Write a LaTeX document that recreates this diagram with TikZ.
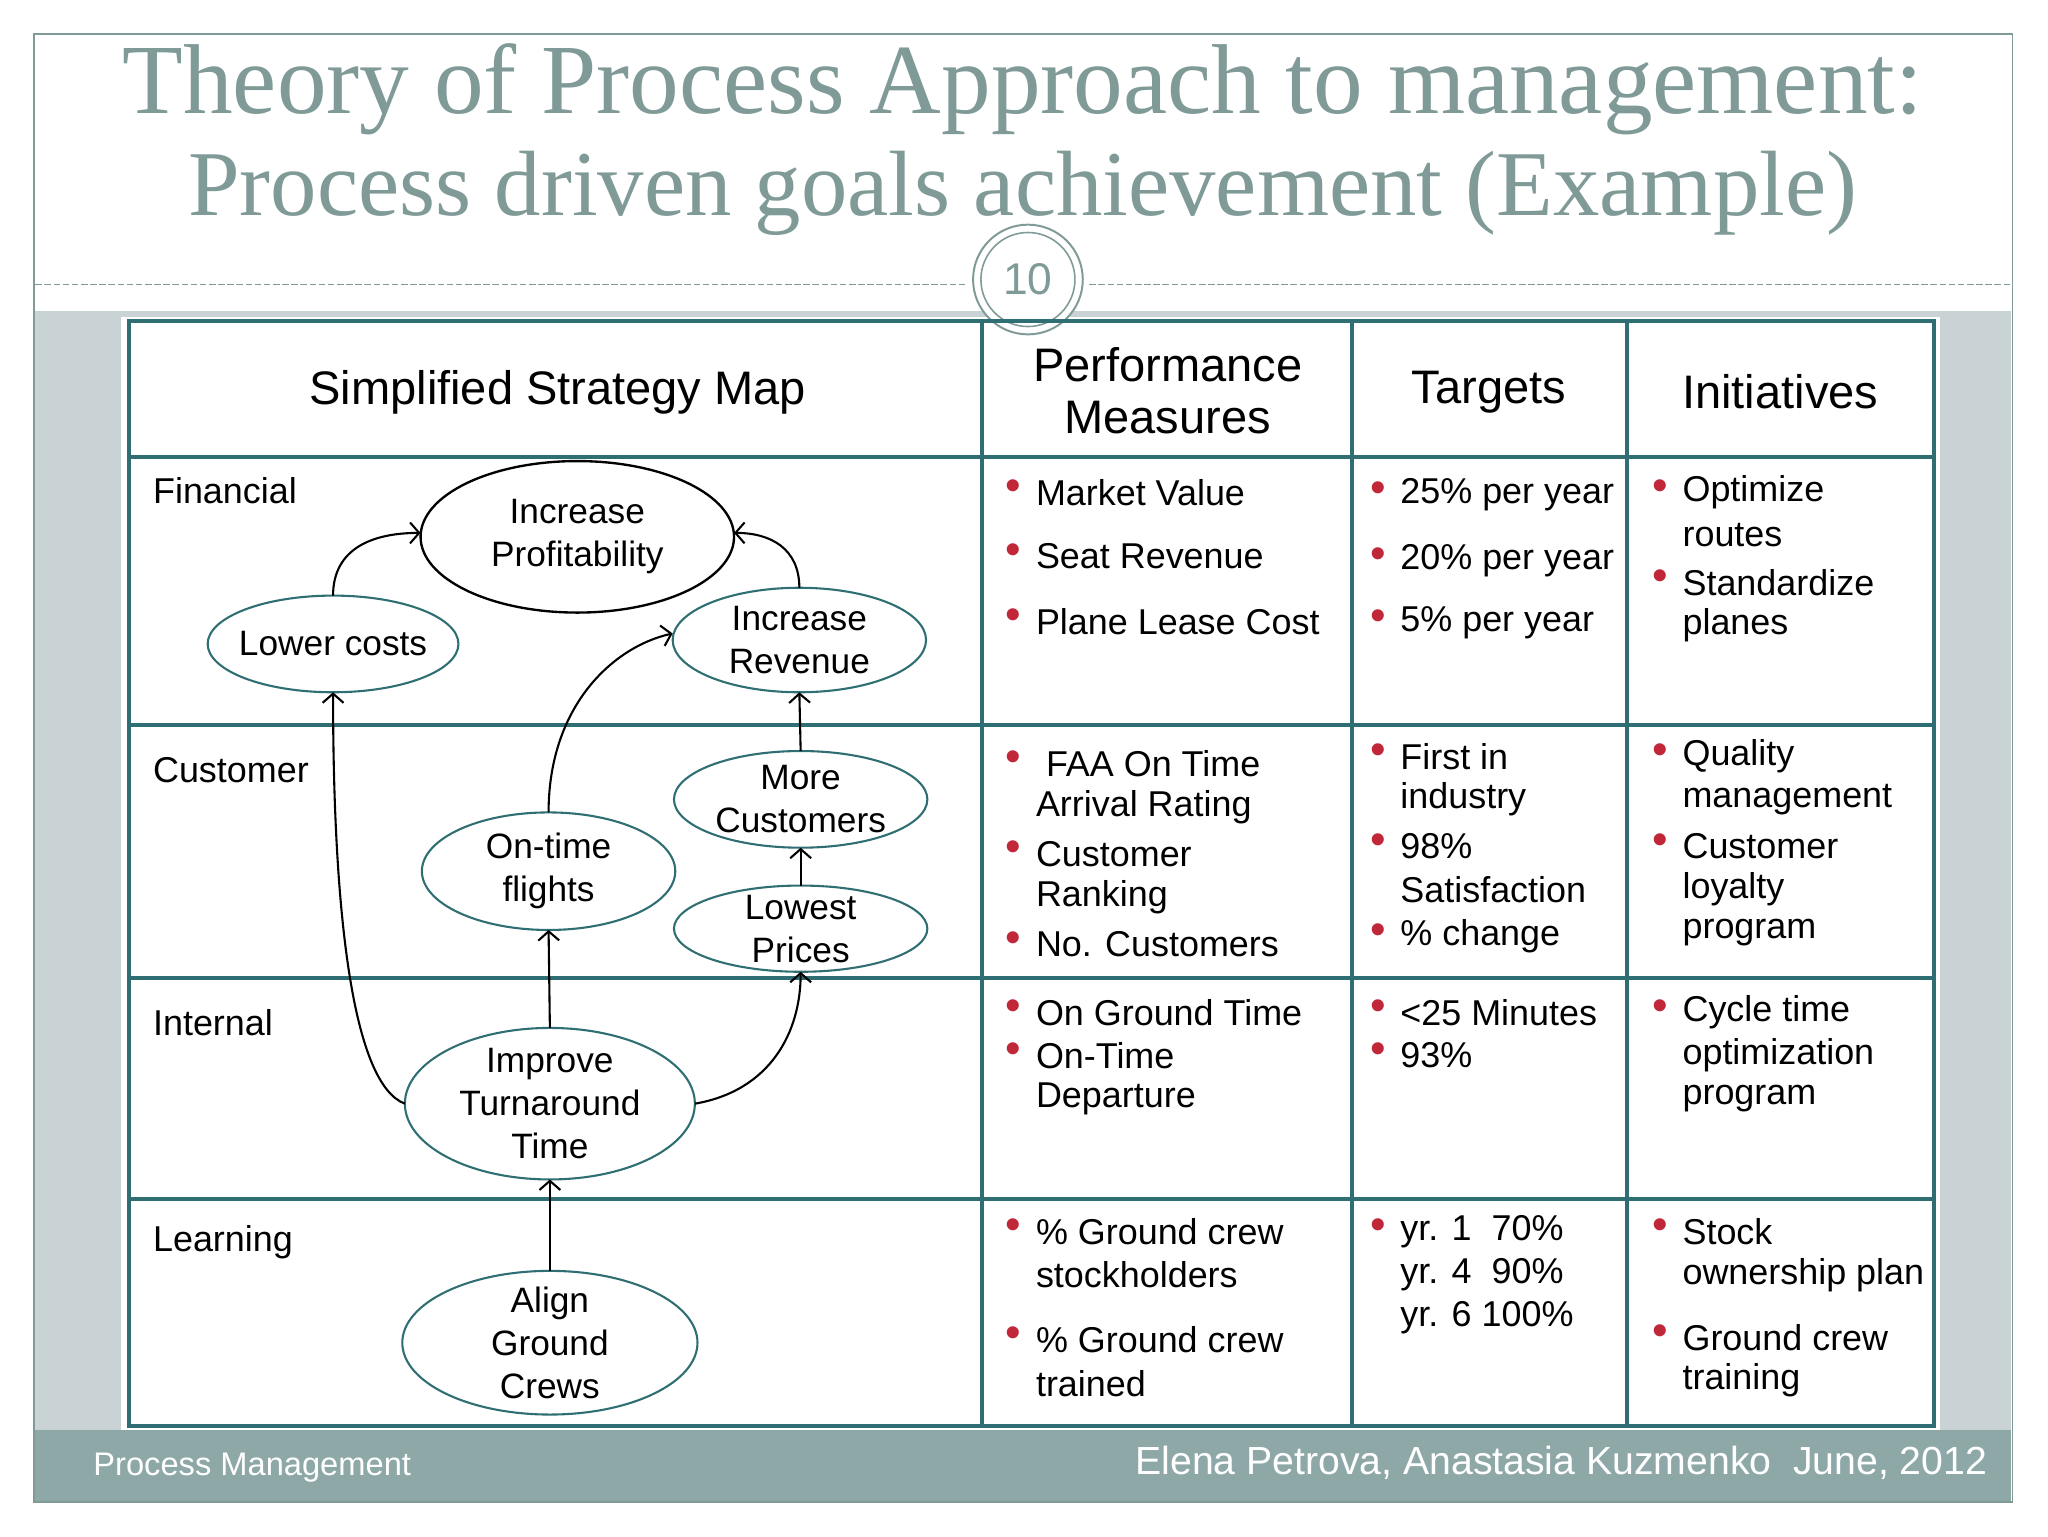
\documentclass[tikz,border=0pt]{standalone}
\usepackage{fontspec}
\setmainfont{Liberation Serif}
\setsansfont{Liberation Sans}
\usetikzlibrary{arrows.meta}
\definecolor{teal1}{HTML}{2F6F73}
\definecolor{ttl}{HTML}{7F9A97}
\definecolor{band}{HTML}{C9D3D6}
\definecolor{foot}{HTML}{8EA8A8}
\definecolor{bul}{HTML}{C0283A}
\begin{document}
\begin{tikzpicture}[x=1pt,y=-1pt,
 txt/.style={font=\sffamily\fontsize{27.5}{30}\selectfont,anchor=west,inner sep=0},
 hd/.style={font=\sffamily\fontsize{36}{42}\selectfont,align=center,inner sep=0},
 bu/.style={font=\sffamily\fontsize{34}{30}\selectfont,text=bul,inner sep=0},
 ell/.style={draw=teal1,line width=1.6pt,font=\sffamily\fontsize{27}{33}\selectfont,align=center,inner sep=0},
 arr/.style={-{Straight Barb[length=7pt,width=16pt]},line width=1.6pt}]
\useasboundingbox (0,0) rectangle (1568,1176);
\fill[white] (0,0) rectangle (1568,1176);
\draw[ttl,line width=1pt] (26,26) rectangle (1541,1150);
\fill[band] (27,238) rectangle (1540,1095);
\fill[white] (93,243) rectangle (1485,1095);
\fill[foot] (27,1095) rectangle (1540,1149);
\draw[ttl,dash pattern=on 5pt off 2pt,line width=1pt] (27,218) -- (740,218) (834,218) -- (1540,218);
\draw[ttl,line width=1.5pt,fill=white] (787,214) circle (42);
\draw[ttl,line width=1.2pt] (787,214) circle (36);
\node[font=\sffamily\fontsize{34}{40}\selectfont,text=ttl] (num) at (787,214) {10};
\node[font=\fontsize{76}{80}\selectfont,text=ttl] (t1) at (783,68) {Theory of Process Approach to management:};
\node[font=\fontsize{71}{80}\selectfont,text=ttl] (t2) at (783,148) {Process driven goals achievement (Example)};
\node[font=\sffamily\fontsize{25}{30}\selectfont,text=white,anchor=west] (f1) at (68,1124) {Process Management};
\node[font=\sffamily\fontsize{30}{36}\selectfont,text=white,anchor=east] (f2) at (1525,1120) {Elena Petrova, Anastasia Kuzmenko\ \ June, 2012};
% table
\draw[teal1,line width=3pt] (99,246) rectangle (1481,1092);
\foreach \x in {752,1035,1246} \draw[teal1,line width=3pt] (\x,246) -- (\x,1092);
\foreach \y in {350,555,749,918} \draw[teal1,line width=3pt] (99,\y) -- (1481,\y);
\node[hd] (h1) at (427,300) {Simplified Strategy Map};
\node[hd] (h2) at (894,299) {Performance\\[-2pt]Measures};
\node[hd] (h3) at (1140,300) {Targets};
\node[hd] (h4) at (1363,300) {Initiatives};
\foreach \t/\y [count=\i] in {Financial/376,Customer/590,Internal/783,Learning/951}
  \node[txt] (r\i) at (117,\y) {\t};
% bullet text
\foreach \b/\t/\y [count=\i] in {1/Market Value/377,1/Seat Revenue/426,1/Plane Lease Cost/476,
  1/\ FAA On Time/585,0/Arrival Rating/618,1/Customer/654,0/Ranking/687,1/No. Customers/723,
  1/On Ground Time/775,1/On-Time/808,0/Departure/841,
  1/\% Ground crew/943,0/stockholders/976,1/\% Ground crew/1026,0/trained/1059}{
  \node[txt] (p\i) at (793,\y) {\t};
  \ifnum\b=1 \node[bu] (pb\i) at (776,\y-2) {•};\fi}
\foreach \b/\t/\y [count=\i] in {1/25\% per year/379,1/20\% per year/429,1/5\% per year/477,
  1/First in/579,0/industry/612,1/98\%/648,0/Satisfaction/681,1/\% change/717,
  1/<25 Minutes/775,1/93\%/808,
  1/yr. 1\ \ 70\%/943,0/yr. 4\ \ 90\%/976,0/yr. 6 100\%/1009}{
  \node[txt] (q\i) at (1072,\y) {\t};
  \ifnum\b=1 \node[bu] (qb\i) at (1055,\y-2) {•};\fi}
\foreach \b/\t/\y [count=\i] in {1/Optimize/377,0/routes/410,1/Standardize/446,0/planes/479,
  1/Quality/579,0/management/612,1/Customer/648,0/loyalty/681,0/program/714,
  1/Cycle time/775,0/optimization/808,0/program/841,
  1/Stock/943,0/ownership plan/976,1/Ground crew/1024,0/training/1057}{
  \node[txt] (s\i) at (1288,\y) {\t};
  \ifnum\b=1 \node[bu] (sb\i) at (1271,\y-2) {•};\fi}
% ellipses
\draw[line width=1.8pt] (442,411) ellipse (120 and 58);
\node[ell,draw=none] (prof) at (442,411) {Increase\\Profitability};
\coordinate (profL) at (322,408); \coordinate (profR) at (562,408);
\draw[teal1,line width=1.6pt] (255,493) ellipse (96 and 37);
\node[ell,draw=none] (lc) at (255,493) {Lower costs};
\draw[teal1,line width=1.6pt] (612,490) ellipse (97 and 40);
\node[ell,draw=none] (rev) at (612,490) {Increase\\Revenue};
\draw[teal1,line width=1.6pt] (613,612) ellipse (97 and 37);
\node[ell,draw=none] (mc) at (613,612) {More\\Customers};
\draw[teal1,line width=1.6pt] (420,667) ellipse (97 and 45);
\node[ell,draw=none] (ot) at (420,667) {On-time\\flights};
\draw[teal1,line width=1.6pt] (613,711) ellipse (97 and 33);
\node[ell,draw=none] (lp) at (613,711) {Lowest\\Prices};
\draw[teal1,line width=1.6pt] (421,845) ellipse (111 and 58);
\node[ell,draw=none] (it) at (421,845) {Improve\\Turnaround\\Time};
\draw[teal1,line width=1.6pt] (421,1028) ellipse (113 and 55);
\node[ell,draw=none] (ag) at (421,1028) {Align\\Ground\\Crews};
\coordinate (lcT) at (255,456); \coordinate (lcB) at (255,530);
\coordinate (revT) at (612,450); \coordinate (revL) at (515,485); \coordinate (revB) at (612,530);
\coordinate (mcT) at (613,575); \coordinate (mcB) at (613,649);
\coordinate (otT) at (420,622); \coordinate (otB) at (420,712);
\coordinate (lpT) at (613,678); \coordinate (lpB) at (613,744);
\coordinate (itT) at (421,787); \coordinate (itL) at (310,845); \coordinate (itR) at (532,845);
\coordinate (agT) at (421,973); \coordinate (itB) at (421,903);
\draw[arr] (lcT) .. controls (255,420) and (285,408) .. (profL);
\draw[arr] (revT) .. controls (612,420) and (590,408) .. (profR);
\draw[arr] (otT) .. controls (420,540) and (470,495) .. (revL);
\draw[arr] (mcT) -- (revB);
\draw[arr] (lpT) -- (mcB);
\draw[arr] (itT) -- (otB);
\draw[arr] (itL) .. controls (270,830) and (255,700) .. (lcB);
\draw[arr] (itR) .. controls (590,835) and (613,790) .. (lpB);
\draw[arr] (agT) -- (itB);
\end{tikzpicture}
\end{document}
